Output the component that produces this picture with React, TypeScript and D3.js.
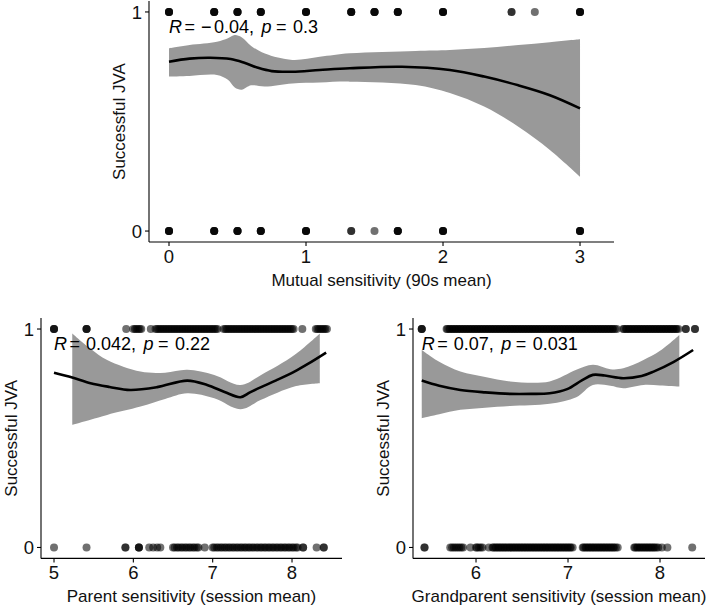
import React from 'react';
import * as d3 from 'd3';

const W = 709;
const H = 607;
const FONT = '"Liberation Sans", Arial, Helvetica, sans-serif';

// ---- top panel: mutual sensitivity (90s mean)
const mutualOnesX = [0, 0.33, 0.5, 0.67, 1, 1.33, 1.5, 1.67, 2, 2.5, 2.67, 3];
const mutualOnesN = [4, 4, 4, 4, 4, 4, 4, 4, 4, 2, 1, 4];
const mutualZerosX = [0, 0.33, 0.5, 0.67, 1, 1.33, 1.5, 1.67, 2, 3];
const mutualZerosN = [4, 4, 4, 4, 4, 2, 1, 4, 4, 4];
const mutualFitX = [0, 0.15, 0.3, 0.45, 0.55, 0.65, 0.75, 0.9, 1.1, 1.32, 1.7, 2.05, 2.3, 2.55, 2.78, 3];
const mutualFit = [0.773, 0.787, 0.791, 0.785, 0.768, 0.745, 0.73, 0.727, 0.735, 0.743, 0.75, 0.735, 0.705, 0.665, 0.62, 0.56];
const mutualBandX = [0, 0.15, 0.35, 0.43, 0.48, 0.53, 0.6, 0.7, 0.9, 1.1, 1.32, 1.8, 2.05, 2.3, 2.55, 2.78, 3];
const mutualUpper = [0.834, 0.849, 0.864, 0.88, 0.895, 0.885, 0.845, 0.81, 0.781, 0.795, 0.811, 0.822, 0.826, 0.835, 0.849, 0.862, 0.875];
const mutualLower = [0.705, 0.708, 0.712, 0.69, 0.655, 0.645, 0.665, 0.66, 0.674, 0.678, 0.682, 0.667, 0.63, 0.568, 0.476, 0.37, 0.248];

// ---- bottom left: parent sensitivity (session mean)
const parentOnes = [
  5.0, 5.0, 5.0, 5.41, 5.41, 5.41, 5.91, 6.0, 6.02, 6.04, 6.06, 6.08, 6.1, 6.22,
  6.28, 6.3, 6.32, 6.34, 6.36, 6.38, 6.4, 6.42, 6.44, 6.46, 6.48, 6.5, 6.52, 6.54,
  6.56, 6.58, 6.6, 6.62, 6.64, 6.66, 6.68, 6.7, 6.72, 6.74, 6.76, 6.78, 6.8, 6.82,
  6.84, 6.86, 6.88, 6.9, 6.92, 6.94, 6.96, 6.98, 7.0, 7.02, 7.04, 7.06,
  7.14, 7.16, 7.18, 7.2, 7.22, 7.24, 7.26, 7.28, 7.3, 7.32, 7.34, 7.36, 7.38, 7.4,
  7.42, 7.44, 7.46, 7.48, 7.5, 7.52, 7.54, 7.56, 7.58, 7.6, 7.62, 7.64, 7.66, 7.68,
  7.7, 7.72, 7.74, 7.76, 7.78, 7.8, 7.82, 7.84, 7.86, 7.88, 7.9, 7.92, 7.94, 7.96,
  7.98, 8.0, 8.02, 8.13, 8.3, 8.32, 8.34, 8.36, 8.38, 8.4, 8.42, 8.44,
];
const parentZeros = [
  5.0, 5.41, 5.9, 5.9, 6.07, 6.07, 6.07, 6.2, 6.25, 6.3, 6.34, 6.5, 6.52, 6.55,
  6.57, 6.6, 6.62, 6.65, 6.67, 6.7, 6.72, 6.75, 6.77, 6.8, 6.82, 6.9, 7.0, 7.02,
  7.05, 7.07, 7.1, 7.12, 7.15, 7.17, 7.2, 7.22, 7.25, 7.27, 7.3, 7.32, 7.35, 7.37,
  7.4, 7.42, 7.45, 7.47, 7.5, 7.52, 7.55, 7.57, 7.6, 7.62, 7.65, 7.67, 7.7, 7.72,
  7.75, 7.77, 7.8, 7.82, 7.85, 7.87, 7.9, 7.92, 7.95, 7.97, 8.0, 8.02, 8.05, 8.07,
  8.14, 8.14, 8.31, 8.4, 8.4,
];
const parentFitX = [5.0, 5.23, 5.46, 5.7, 5.96, 6.3, 6.68, 6.93, 7.15, 7.35, 7.47, 7.61, 7.8, 8.03, 8.2, 8.43];
const parentFit = [0.8, 0.778, 0.752, 0.735, 0.721, 0.734, 0.764, 0.744, 0.712, 0.688, 0.71, 0.734, 0.765, 0.805, 0.84, 0.892];
const parentBandX = [5.23, 5.46, 5.67, 6.09, 6.4, 6.68, 7.02, 7.35, 7.61, 8.03, 8.35];
const parentUpper = [0.98, 0.91, 0.858, 0.805, 0.8, 0.813, 0.79, 0.744, 0.79, 0.881, 0.98];
const parentLower = [0.562, 0.585, 0.607, 0.645, 0.68, 0.706, 0.683, 0.633, 0.676, 0.737, 0.752];

// ---- bottom right: grandparent sensitivity (session mean)
const grandOnes = [
  5.41, 5.41, 5.41,
  5.68, 5.69, 5.71, 5.72, 5.74, 5.75, 5.77, 5.78, 5.8, 5.81, 5.83, 5.84, 5.86, 5.87,
  5.89, 5.9, 5.92, 5.93, 5.95, 5.96, 5.98, 5.99, 6.01, 6.02, 6.04, 6.05, 6.07, 6.08,
  6.1, 6.11, 6.13, 6.14, 6.16, 6.17, 6.19, 6.2, 6.22, 6.23, 6.25, 6.26, 6.28, 6.29,
  6.31, 6.32, 6.34, 6.35, 6.37, 6.38, 6.4, 6.41, 6.43, 6.44, 6.46, 6.47, 6.49, 6.5,
  6.52, 6.53, 6.55, 6.56, 6.58, 6.59, 6.61, 6.62, 6.64, 6.65, 6.67, 6.68, 6.7, 6.71,
  6.73, 6.74, 6.76, 6.77, 6.79, 6.8, 6.82, 6.83, 6.85, 6.86, 6.88, 6.89, 6.91, 6.92,
  6.94, 6.95, 6.97, 6.98, 7.0, 7.01, 7.03, 7.04, 7.06, 7.07, 7.09, 7.1, 7.12, 7.13,
  7.15, 7.16, 7.18, 7.19, 7.21, 7.22, 7.24, 7.25, 7.27, 7.28, 7.3, 7.31, 7.33, 7.34,
  7.36, 7.37, 7.39, 7.4, 7.42, 7.43, 7.45, 7.46, 7.48, 7.49, 7.51, 7.53,
  7.6, 7.61, 7.63, 7.64, 7.66, 7.67, 7.69, 7.7, 7.72, 7.73, 7.75, 7.76, 7.78, 7.79,
  7.81, 7.82, 7.84, 7.85, 7.87, 7.88, 7.9, 7.91, 7.93, 7.94, 7.96, 7.97, 7.99, 8.0,
  8.02, 8.03, 8.05, 8.06, 8.08, 8.09, 8.11, 8.12, 8.14, 8.15, 8.17, 8.18, 8.2,
  8.28, 8.28, 8.38, 8.38,
];
const grandZeros = [
  5.44, 5.44, 5.72, 5.74, 5.76, 5.78, 5.8, 5.82, 5.84, 5.86, 5.94, 6.0, 6.01, 6.03,
  6.05, 6.07, 6.14,
  6.18, 6.19, 6.21, 6.22, 6.24, 6.25, 6.27, 6.28, 6.3, 6.31, 6.33, 6.34, 6.36, 6.37,
  6.39, 6.4, 6.42, 6.43, 6.45, 6.46, 6.48, 6.49, 6.51, 6.52, 6.54, 6.55, 6.57, 6.58,
  6.6, 6.61, 6.63, 6.64, 6.66, 6.67, 6.69, 6.7, 6.72, 6.73, 6.75, 6.76, 6.78, 6.79,
  6.81, 6.82, 6.84, 6.85, 6.87, 6.88, 6.9, 6.91, 6.93, 6.94, 6.96, 6.97, 6.99, 7.0,
  7.02, 7.03, 7.05,
  7.16, 7.17, 7.19, 7.2, 7.22, 7.23, 7.25, 7.26, 7.28, 7.29, 7.31, 7.32, 7.34, 7.35,
  7.37, 7.38, 7.4, 7.41, 7.43, 7.44, 7.46, 7.47, 7.49, 7.5, 7.52, 7.54,
  7.72, 7.73, 7.75, 7.76, 7.78, 7.79, 7.81, 7.82, 7.84, 7.85, 7.87, 7.88, 7.9, 7.91,
  7.93, 7.94, 7.96, 7.98, 8.02, 8.08, 8.35,
];
const grandFitX = [5.41, 5.6, 5.83, 6.1, 6.37, 6.6, 6.8, 6.99, 7.15, 7.27, 7.4, 7.6, 7.8, 7.93, 8.15, 8.36];
const grandFit = [0.764, 0.74, 0.721, 0.71, 0.703, 0.703, 0.706, 0.725, 0.765, 0.79, 0.787, 0.775, 0.785, 0.805, 0.85, 0.904];
const grandBandX = [5.41, 5.6, 5.83, 6.1, 6.37, 6.8, 7.09, 7.27, 7.46, 7.6, 7.82, 8.0, 8.21];
const grandUpper = [0.904, 0.85, 0.805, 0.78, 0.76, 0.76, 0.813, 0.836, 0.816, 0.82, 0.858, 0.9, 0.973];
const grandLower = [0.592, 0.61, 0.63, 0.64, 0.648, 0.658, 0.688, 0.744, 0.74, 0.729, 0.744, 0.742, 0.737];

const expand = (xs: number[], ns: number[]) => xs.flatMap((v, i) => Array(ns[i]).fill(v));

type PanelProps = {
  left: number;
  right: number;
  top: number;
  bottom: number;
  xDomain: [number, number];
  xTicks: number[];
  xTitle: string;
  ones: number[];
  zeros: number[];
  fitX: number[];
  fit: number[];
  bandX: number[];
  lower: number[];
  upper: number[];
  rText: string;
  pText: string;
};

const Panel = (p: PanelProps) => {
  const x = d3.scaleLinear().domain(p.xDomain).range([p.left, p.right]);
  const y = d3.scaleLinear().domain([-0.05, 1.05]).range([p.bottom, p.top]);

  const band = d3
    .area<number>()
    .x((d) => x(d))
    .y0((_, i) => y(p.lower[i]))
    .y1((_, i) => y(p.upper[i]))
    .curve(d3.curveCatmullRom.alpha(0.5));

  const line = d3
    .line<number>()
    .x((_, i) => x(p.fitX[i]))
    .y((d) => y(d))
    .curve(d3.curveCatmullRom.alpha(0.5));

  const labelX = x(d3.min([...p.ones, ...p.zeros]) as number);
  const negative = p.rText.startsWith('\u2212');
  const rNumber = p.rText.replace('\u2212', '');

  return (
    <g>
      {/* points */}
      {p.ones.map((v, i) => (
        <circle key={'o' + i} cx={x(v)} cy={y(1)} r={4} fill="#000" fillOpacity={0.56} />
      ))}
      {p.zeros.map((v, i) => (
        <circle key={'z' + i} cx={x(v)} cy={y(0)} r={4} fill="#000" fillOpacity={0.56} />
      ))}

      {/* confidence band + smooth */}
      <path d={band(p.bandX) || ''} fill="#999999" />
      <path d={line(p.fit) || ''} fill="none" stroke="#000" strokeWidth={2.6} />

      {/* axes */}
      <line x1={p.left} x2={p.right} y1={p.bottom} y2={p.bottom} stroke="#000" strokeWidth={1.1} />
      <line x1={p.left} x2={p.left} y1={p.top} y2={p.bottom} stroke="#000" strokeWidth={1.1} />
      {p.xTicks.map((t) => (
        <g key={'xt' + t}>
          <line x1={x(t)} x2={x(t)} y1={p.bottom} y2={p.bottom + 4} stroke="#000" strokeWidth={1.1} />
          <text x={x(t)} y={p.bottom + 20.5} textAnchor="middle" fontSize={18.5} fill="#111">
            {t}
          </text>
        </g>
      ))}
      {[0, 1].map((t) => (
        <g key={'yt' + t}>
          <line x1={p.left - 4} x2={p.left} y1={y(t)} y2={y(t)} stroke="#000" strokeWidth={1.1} />
          <text x={p.left - 7} y={y(t) + 6.6} textAnchor="end" fontSize={18.5} fill="#111">
            {t}
          </text>
        </g>
      ))}

      {/* titles */}
      <text x={(p.left + p.right) / 2} y={p.bottom + 43.5} textAnchor="middle" fontSize={17} fill="#111">
        {p.xTitle}
      </text>
      <text
        transform={`translate(${p.left - 24.5},${(p.top + p.bottom) / 2}) rotate(-90)`}
        textAnchor="middle"
        fontSize={17}
        fill="#111"
      >
        Successful JVA
      </text>

      {/* correlation label, spaced like plotmath */}
      <text x={labelX} y={y(1) + 21} fontSize={18} fill="#000">
        <tspan fontStyle="italic">R</tspan>
        <tspan dx={2.5}>=</tspan>
        {negative ? <tspan dx={6}>{'\u2212'}</tspan> : null}
        <tspan dx={negative ? 2.5 : 6}>{rNumber + ','}</tspan>
        <tspan dx={7.5} fontStyle="italic">p</tspan>
        <tspan dx={4.5}>=</tspan>
        <tspan dx={6.5}>{p.pText}</tspan>
      </text>
    </g>
  );
};

const App = () => {
  return (
    <svg
      width={W}
      height={H}
      style={{ position: 'absolute', left: 0, top: 0, background: '#fff' }}
      fontFamily={FONT}
    >
      <Panel
        left={149}
        right={614}
        top={1}
        bottom={242}
        xDomain={[-0.146, 3.248]}
        xTicks={[0, 1, 2, 3]}
        xTitle="Mutual sensitivity (90s mean)"
        ones={expand(mutualOnesX, mutualOnesN)}
        zeros={expand(mutualZerosX, mutualZerosN)}
        fitX={mutualFitX}
        fit={mutualFit}
        bandX={mutualBandX}
        lower={mutualLower}
        upper={mutualUpper}
        rText={'\u22120.04'}
        pText="0.3"
      />
      <Panel
        left={41}
        right={342}
        top={318.1}
        bottom={558.4}
        xDomain={[4.836, 8.63]}
        xTicks={[5, 6, 7, 8]}
        xTitle="Parent sensitivity (session mean)"
        ones={parentOnes}
        zeros={parentZeros}
        fitX={parentFitX}
        fit={parentFit}
        bandX={parentBandX}
        lower={parentLower}
        upper={parentUpper}
        rText="0.042"
        pText="0.22"
      />
      <Panel
        left={413}
        right={705}
        top={318.1}
        bottom={558.4}
        xDomain={[5.315, 8.489]}
        xTicks={[6, 7, 8]}
        xTitle="Grandparent sensitivity (session mean)"
        ones={grandOnes}
        zeros={grandZeros}
        fitX={grandFitX}
        fit={grandFit}
        bandX={grandBandX}
        lower={grandLower}
        upper={grandUpper}
        rText="0.07"
        pText="0.031"
      />
    </svg>
  );
};

export default App;
